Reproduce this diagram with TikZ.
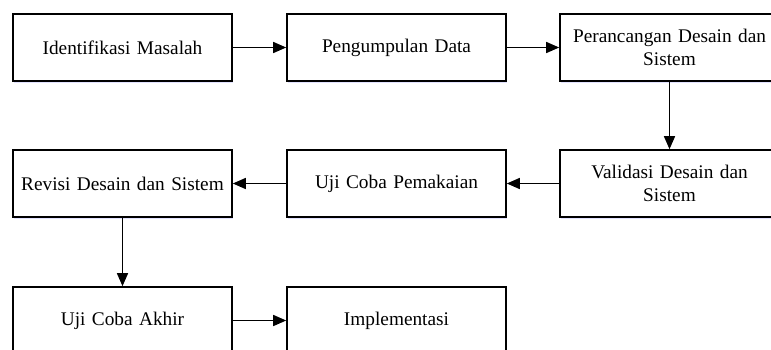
\documentclass[tikz,border=0pt]{standalone}
\usepackage{fontspec}
\setmainfont{Liberation Serif}
\usetikzlibrary{arrows.meta,shadows}
\tikzset{
  boxnode/.style={draw=black, line width=1.6pt, fill=white, minimum width=219pt, minimum height=67pt,
    inner sep=0pt, text width=205pt, align=center,
    font=\fontsize{19.3}{22.5}\selectfont,
    drop shadow={shadow xshift=1.2pt, shadow yshift=-1.6pt, fill=blue!25, opacity=0.45}},
  flow/.style={line width=1.4pt, -{Triangle[length=13pt,width=11pt]}}
}
\begin{document}
\begin{tikzpicture}[x=1pt,y=-1pt]
\useasboundingbox (0,0) rectangle (771,349);
\clip (0,0) rectangle (771,349);
\fill[white] (0,0) rectangle (771,349);
\node[boxnode] (b1) at (122.5,47.5) {Identifikasi Masalah};
\node[boxnode] (b2) at (396.5,47.5) {Pengumpulan Data};
\node[boxnode] (b3) at (669.5,47.5) {Perancangan Desain dan\\Sistem};
\node[boxnode] (b4) at (122.5,183.5) {Revisi Desain dan Sistem};
\node[boxnode] (b5) at (396.5,183.5) {Uji Coba Pemakaian};
\node[boxnode] (b6) at (669.5,183.5) {Validasi Desain dan\\Sistem};
\node[boxnode] (b7) at (122.5,320.5) {Uji Coba Akhir};
\node[boxnode] (b8) at (396.5,320.5) {Implementasi};
\draw[flow] (b1) -- (b2);
\draw[flow] (b2) -- (b3);
\draw[flow] (b3) -- (b6);
\draw[flow] (b6) -- (b5);
\draw[flow] (b5) -- (b4);
\draw[flow] (b4) -- (b7);
\draw[flow] (b7) -- (b8);
\end{tikzpicture}
\end{document}
